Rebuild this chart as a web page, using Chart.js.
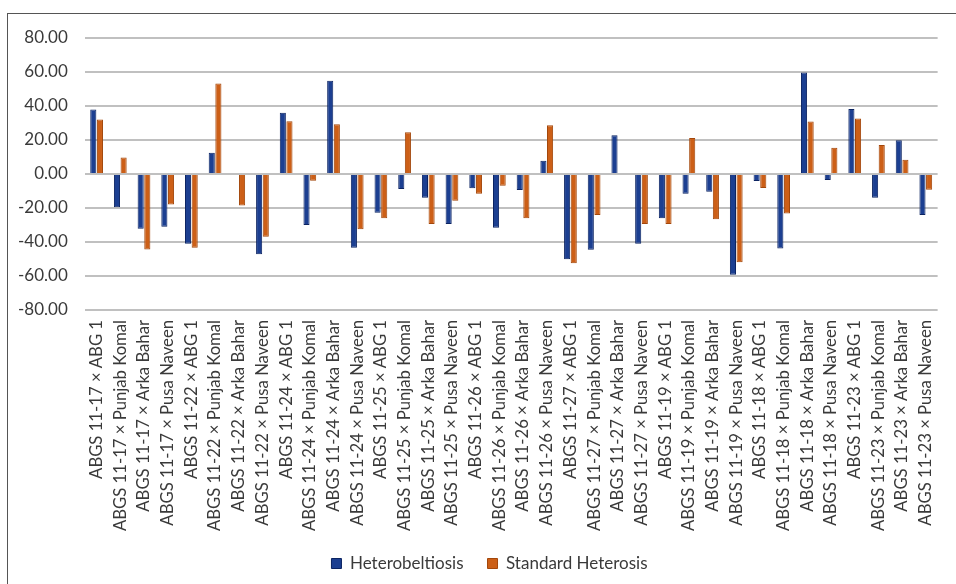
<!DOCTYPE html>
<html>
<head>
<meta charset="utf-8">
<script src="https://cdn.jsdelivr.net/npm/chart.js@4.4.1/dist/chart.umd.min.js"></script>
<style>
  html, body { margin: 0; padding: 0; background: #fff; }
  #wrap { position: relative; width: 956px; height: 584px; overflow: hidden; }
  #frame { position: absolute; left: 7px; top: 13px; width: 1000px; height: 700px;
           border-left: 1.5px solid #555; border-top: 1.5px solid #555; }
  #chart { position: absolute; left: 0; top: 0; }
</style>
</head>
<body>
<div id="wrap">
  <div id="frame"></div>
  <canvas id="chart" width="956" height="584"></canvas>
</div>
<script>
// Crosses (lines x testers)
const crosses = [
    "ABGS 11-17 × ABG 1", "ABGS 11-17 × Punjab Komal", "ABGS 11-17 × Arka Bahar", "ABGS 11-17 × Pusa Naveen",
    "ABGS 11-22 × ABG 1", "ABGS 11-22 × Punjab Komal", "ABGS 11-22 × Arka Bahar", "ABGS 11-22 × Pusa Naveen",
    "ABGS 11-24 × ABG 1", "ABGS 11-24 × Punjab Komal", "ABGS 11-24 × Arka Bahar", "ABGS 11-24 × Pusa Naveen",
    "ABGS 11-25 × ABG 1", "ABGS 11-25 × Punjab Komal", "ABGS 11-25 × Arka Bahar", "ABGS 11-25 × Pusa Naveen",
    "ABGS 11-26 × ABG 1", "ABGS 11-26 × Punjab Komal", "ABGS 11-26 × Arka Bahar", "ABGS 11-26 × Pusa Naveen",
    "ABGS 11-27 × ABG 1", "ABGS 11-27 × Punjab Komal", "ABGS 11-27 × Arka Bahar", "ABGS 11-27 × Pusa Naveen",
    "ABGS 11-19 × ABG 1", "ABGS 11-19 × Punjab Komal", "ABGS 11-19 × Arka Bahar", "ABGS 11-19 × Pusa Naveen",
    "ABGS 11-18 × ABG 1", "ABGS 11-18 × Punjab Komal", "ABGS 11-18 × Arka Bahar", "ABGS 11-18 × Pusa Naveen",
    "ABGS 11-23 × ABG 1", "ABGS 11-23 × Punjab Komal", "ABGS 11-23 × Arka Bahar", "ABGS 11-23 × Pusa Naveen"
];

// Heterobeltiosis (%)
const heterobeltiosis = [
    38.0, -19.6, -32.3, -31.1,
    -41.0, 12.5, 0.0, -47.3,
    36.0, -30.0, 54.9, -43.4,
    -22.8, -8.9, -14.0, -29.4,
    -8.4, -31.7, -9.5, 7.8,
    -50.2, -44.6, 22.8, -41.0,
    -26.1, -11.7, -10.5, -59.3,
    -4.1, -43.8, 59.7, -3.5,
    38.3, -14.0, 19.8, -24.1
];

// Standard heterosis (%)
const standardHeterosis = [
    32.1, 9.7, -44.4, -17.9,
    -43.4, 53.3, -18.5, -37.0,
    31.0, -4.0, 29.2, -32.5,
    -26.1, 24.5, -29.4, -15.8,
    -11.7, -7.0, -26.1, 28.6,
    -52.5, -24.1, 0.0, -29.4,
    -29.4, 21.2, -26.7, -51.9,
    -8.2, -23.2, 30.9, 15.4,
    32.7, 17.1, 8.4, -9.3
];

const yTicks = [-80, -60, -40, -20, 0, 20, 40, 60, 80];

const fontFamily = "Lato, 'Open Sans', sans-serif";
const textColor = '#3a3a3a';

// legend padding also sets the gap between items; keep the wide gap
// but don't let it eat vertical room from the plot
const legendPad = 24;
const legendTrim = legendPad - 11;
const legendSpacing = {
    id: 'legendSpacing',
    beforeInit(chart) {
        const legend = chart.legend;
        if (!legend) return;
        const fit = legend.fit;
        legend.fit = function () {
            fit.call(this);
            this.height -= legendTrim;
        };
        const draw = legend.draw;
        legend.draw = function (area) {
            const c = this.ctx;
            c.save();
            c.translate(17, 3 - legendTrim);
            draw.call(this, area);
            c.restore();
        };
    }
};

const ctx = document.getElementById('chart').getContext('2d');
new Chart(ctx, {
    type: 'bar',
    data: {
        labels: crosses,
        datasets: [
            {
                label: 'Heterobeltiosis',
                data: heterobeltiosis,
                backgroundColor: '#1c3f91',
                borderColor: '#0c2462',
                borderWidth: 1,
                categoryPercentage: 0.56,
                barPercentage: 0.92
            },
            {
                label: 'Standard Heterosis',
                data: standardHeterosis,
                backgroundColor: '#cc5f17',
                borderColor: '#a3470b',
                borderWidth: 1,
                categoryPercentage: 0.56,
                barPercentage: 0.92
            }
        ]
    },
    options: {
        responsive: false,
        animation: false,
        layout: { padding: { top: 38, left: 1, right: 12, bottom: 5 } },
        scales: {
            x: {
                grid: { display: false, drawTicks: false },
                border: { display: false },
                ticks: {
                    color: textColor,
                    font: { family: fontFamily, size: 16.7 },
                    maxRotation: 90,
                    minRotation: 90,
                    autoSkip: false,
                    padding: 10
                }
            },
            y: {
                min: -80,
                max: 80,
                afterBuildTicks: (axis) => {
                    axis.ticks = yTicks.map(v => ({ value: v }));
                },
                grid: { color: '#c0c0c0', lineWidth: 2, drawTicks: false },
                border: { display: false },
                ticks: {
                    color: textColor,
                    font: { family: fontFamily, size: 17 },
                    padding: 17,
                    callback: (v) => Number(v).toFixed(2)
                }
            }
        },
        plugins: {
            legend: {
                position: 'bottom',
                labels: {
                    color: textColor,
                    font: { family: fontFamily, size: 17 },
                    boxWidth: 10,
                    boxHeight: 10,
                    padding: legendPad
                }
            },
            tooltip: { enabled: false }
        }
    },
    plugins: [legendSpacing]
});
</script>
</body>
</html>
